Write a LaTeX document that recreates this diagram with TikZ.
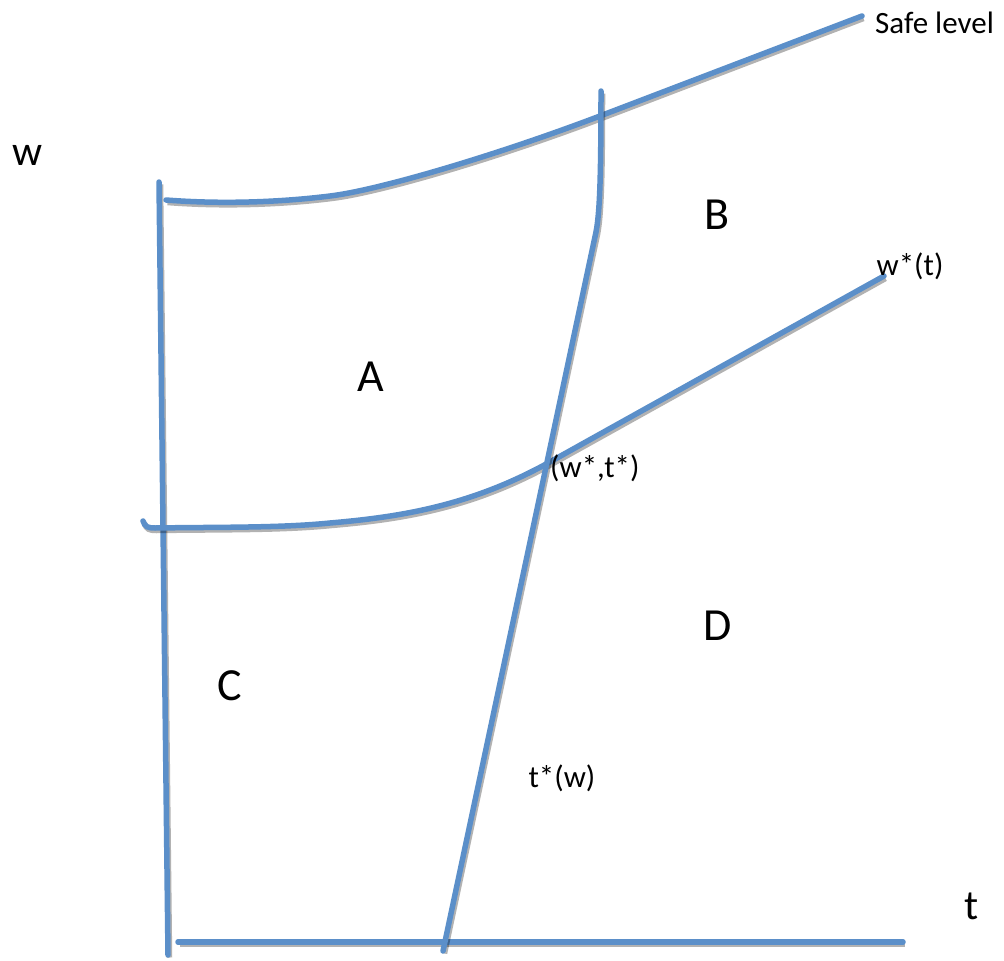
\documentclass[tikz,border=0pt]{standalone}
\usepackage{fontspec}
\setmainfont{Carlito}
\definecolor{lineblue}{RGB}{91,143,201}
\tikzset{
  curve/.style={line width=5.5pt, draw=lineblue, line cap=round,
    preaction={draw=black, opacity=0.3, line width=5.5pt,
      transform canvas={shift={(1.5pt,-2.5pt)}}}},
  lbl/.style={inner sep=0pt, font=\fontsize{31}{33}\selectfont},
  big/.style={inner sep=0pt, font=\fontsize{46}{50}\selectfont},
  axl/.style={inner sep=0pt, font=\fontsize{42}{46}\selectfont}
}
\begin{document}
\begin{tikzpicture}[x=1pt,y=-1pt]
\useasboundingbox (0,0) rectangle (1004,961);
% axes
\coordinate (vtop) at (159,182);
\coordinate (vbot) at (168,955);
\coordinate (hl) at (178,942);
\coordinate (hr) at (903,942);
\draw[curve] (vtop) -- (vbot);
\draw[curve] (hl) -- (hr);
% safe level
\coordinate (s0) at (166,200);
\coordinate (s1) at (862,16);
\draw[curve] (s0) .. controls (230,205) and (290,201) .. (330,196)
  .. controls (380,190) and (500,154) .. (600,116) -- (s1);
% w*(t)
\coordinate (m0) at (143,521);
\coordinate (m1) at (884,276);
\coordinate (ix) at (548,463);
\draw[curve] (m0) .. controls (145,527) and (148,528) .. (155,528)
  .. controls (220,527) and (280,528) .. (330,523)
  .. controls (400,517) and (470,506) .. (ix) -- (m1);
% t*(w)
\coordinate (t0) at (601,91);
\coordinate (t1) at (443,951);
\draw[curve] (t0) .. controls (601,170) and (600,212) .. (596,232) -- (t1);
% labels
\node[lbl, anchor=west] (safe) at (875,23) {Safe level};
\node[axl] (wlab) at (28,155) {w};
\node[big] (B) at (717,215) {B};
\node[lbl] (wt) at (910,266) {w*(t)};
\node[big] (A) at (371,377) {A};
\node[lbl, anchor=west] (wt2) at (550,468) {(w*,t*)};
\node[big] (D) at (718,626) {D};
\node[big] (C) at (230,686) {C};
\node[lbl] (tw) at (562,778) {t*(w)};
\node[axl] (tlab) at (972,906) {t};
\end{tikzpicture}
\end{document}
